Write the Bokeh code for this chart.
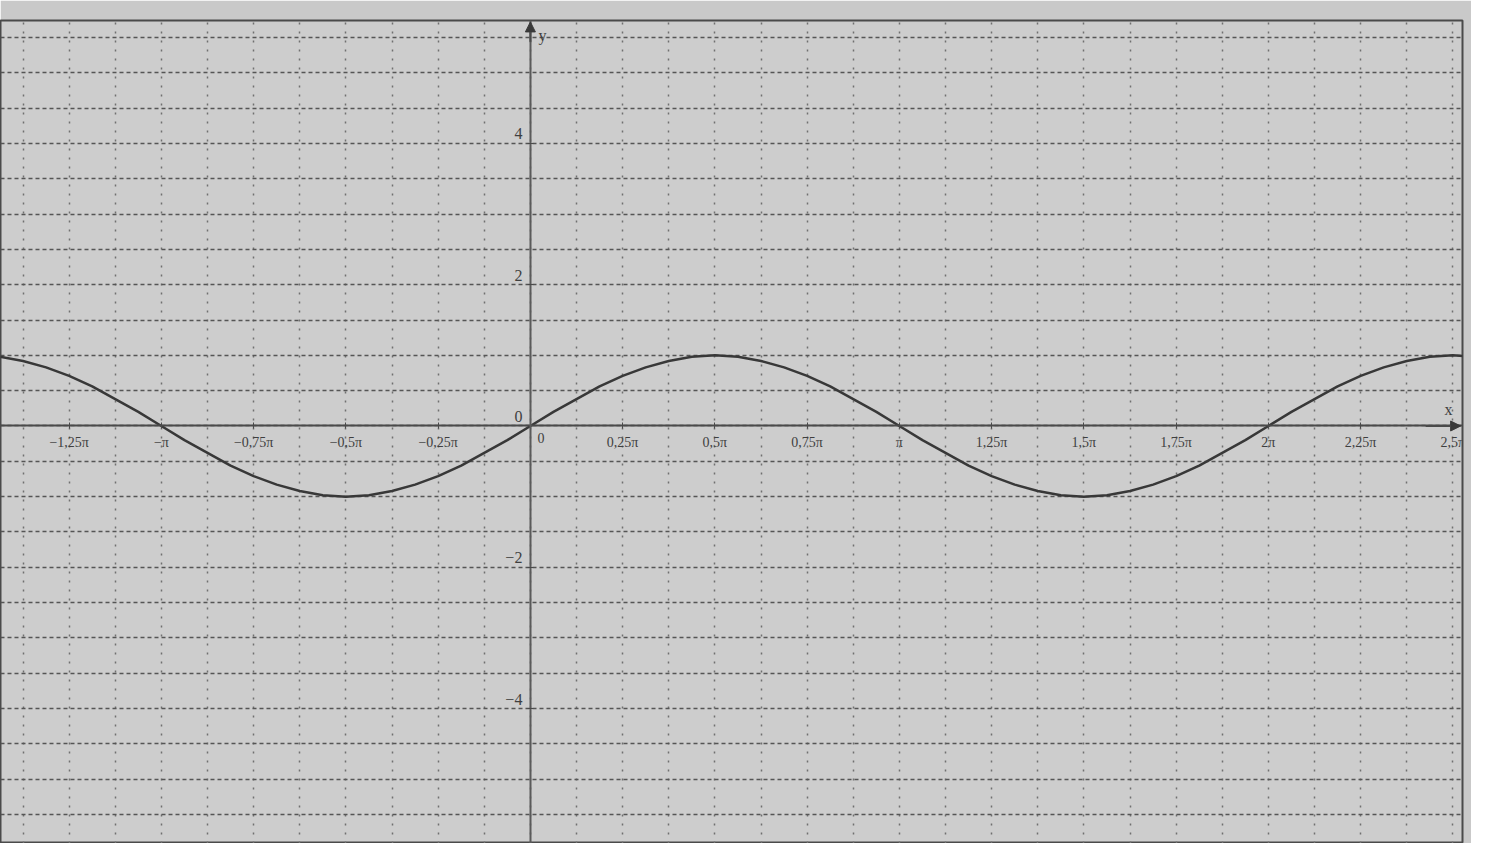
from bokeh.plotting import figure
from bokeh.models import Range1d, FixedTicker, Arrow, NormalHead, Label, ColumnDataSource
from bokeh.core.properties import value
from bokeh.embed import file_html
from bokeh.resources import INLINE

# x in units of pi (sample points along the curve), y
x_pi = [-1.4375, -1.375, -1.3125, -1.25, -1.1875, -1.125, -1.0625, -1.0,
        -0.9375, -0.875, -0.8125, -0.75, -0.6875, -0.625, -0.5625, -0.5,
        -0.4375, -0.375, -0.3125, -0.25, -0.1875, -0.125, -0.0625, 0.0,
        0.0625, 0.125, 0.1875, 0.25, 0.3125, 0.375, 0.4375, 0.5,
        0.5625, 0.625, 0.6875, 0.75, 0.8125, 0.875, 0.9375, 1.0,
        1.0625, 1.125, 1.1875, 1.25, 1.3125, 1.375, 1.4375, 1.5,
        1.5625, 1.625, 1.6875, 1.75, 1.8125, 1.875, 1.9375, 2.0,
        2.0625, 2.125, 2.1875, 2.25, 2.3125, 2.375, 2.4375, 2.5, 2.5625]
y_vals = [0.98, 0.92, 0.83, 0.71, 0.56, 0.38, 0.2, 0.0,
          -0.2, -0.38, -0.56, -0.71, -0.83, -0.92, -0.98, -1.0,
          -0.98, -0.92, -0.83, -0.71, -0.56, -0.38, -0.2, 0.0,
          0.2, 0.38, 0.56, 0.71, 0.83, 0.92, 0.98, 1.0,
          0.98, 0.92, 0.83, 0.71, 0.56, 0.38, 0.2, 0.0,
          -0.2, -0.38, -0.56, -0.71, -0.83, -0.92, -0.98, -1.0,
          -0.98, -0.92, -0.83, -0.71, -0.56, -0.38, -0.2, 0.0,
          0.2, 0.38, 0.56, 0.71, 0.83, 0.92, 0.98, 1.0, 0.98]

x_ticks = [-1.25, -1.0, -0.75, -0.5, -0.25, 0.0, 0.25, 0.5, 0.75, 1.0,
           1.25, 1.5, 1.75, 2.0, 2.25, 2.5]
x_tick_labels = ["\u22121,25\u03c0", "\u2212\u03c0", "\u22120,75\u03c0", "\u22120,5\u03c0",
                 "\u22120,25\u03c0", "0", "0,25\u03c0", "0,5\u03c0", "0,75\u03c0", "\u03c0",
                 "1,25\u03c0", "1,5\u03c0", "1,75\u03c0", "2\u03c0", "2,25\u03c0", "2,5\u03c0"]
y_ticks = [4, 2, 0, -2, -4]
y_tick_labels = ["4", "2", "0", "\u22122", "\u22124"]

x_grid = [i / 8 for i in range(-11, 21)]
y_grid = [i / 2 for i in range(-11, 12)]

X0, X1 = -1.436, 2.526
Y0, Y1 = -5.91, 5.74

paper = "#cdcdcd"
ink = "#3f3f3f"
serif = "Liberation Serif"

p = figure(width=1471, height=843, output_backend="svg", toolbar_location=None,
           x_range=Range1d(X0, X1), y_range=Range1d(Y0, Y1),
           min_border_left=0, min_border_right=9, min_border_top=20, min_border_bottom=0)
p.background_fill_color = paper
p.border_fill_color = "#c9c9c9"
p.outline_line_color = "#4a4a4a"
p.outline_line_width = 2

# grid
p.xgrid.ticker = FixedTicker(ticks=x_grid)
p.xgrid.grid_line_color = "#707070"
p.xgrid.grid_line_dash = "2 7"
p.xgrid.grid_line_width = 1.5
p.ygrid.ticker = FixedTicker(ticks=y_grid)
p.ygrid.grid_line_color = "#555555"
p.ygrid.grid_line_dash = "4 3"
p.ygrid.grid_line_width = 1.3

# axes through the origin
overrides = {}
for t, lab in zip(x_ticks, x_tick_labels):
    overrides[t] = "" if t == 0 else lab
xa = p.xaxis[0]
xa.fixed_location = 0
xa.ticker = FixedTicker(ticks=x_ticks)
xa.major_label_overrides = overrides
xa.axis_line_color = "#4a4a4a"
xa.axis_line_width = 2
xa.major_tick_in = 3
xa.major_tick_out = 3
xa.major_tick_line_color = "#4a4a4a"
xa.minor_tick_line_color = None
xa.major_label_standoff = 6
xa.major_label_text_font = serif
xa.major_label_text_font_size = "14px"
xa.major_label_text_color = ink

ya = p.yaxis[0]
ya.fixed_location = 0
ya.ticker = FixedTicker(ticks=[-4, -2, 2, 4])
ya.major_label_overrides = {-4: "", -2: "", 2: "", 4: ""}
ya.axis_line_color = "#5a5a5a"
ya.axis_line_width = 2
ya.major_tick_in = 3
ya.major_tick_out = 3
ya.major_tick_line_color = "#4a4a4a"
ya.minor_tick_line_color = None

# y tick labels (printed slightly above their ticks)
ysrc = ColumnDataSource(dict(x=[0] * len(y_ticks), y=y_ticks, t=y_tick_labels))
p.text(x="x", y="y", text="t", source=ysrc, text_align="right", text_baseline="bottom",
       x_offset=-8, y_offset=-4, text_font=value(serif), text_font_size="16px",
       text_color=ink)
# x "0" label to the right of the y axis
p.text(x=[x_ticks[5]], y=[0], text=[x_tick_labels[5]], text_align="left",
       text_baseline="top", x_offset=7, y_offset=7, text_font=value(serif),
       text_font_size="14px", text_color=ink)

# curve
p.line(x=x_pi, y=y_vals, line_color="#383838", line_width=2.5)

# arrows
p.add_layout(Arrow(end=NormalHead(size=10, fill_color="#3a3a3a", line_color="#3a3a3a"),
                   x_start=0, y_start=Y1 - 0.3, x_end=0, y_end=Y1 - 0.02,
                   line_color="#4a4a4a", line_width=2))
p.add_layout(Arrow(end=NormalHead(size=10, fill_color="#3a3a3a", line_color="#3a3a3a"),
                   x_start=X1 - 0.1, y_start=0, x_end=X1 - 0.005, y_end=0,
                   line_color="#4a4a4a", line_width=2))
p.add_layout(Label(x=X1, y=0, text="x", x_offset=-14, y_offset=8, text_align="center",
                   text_baseline="bottom", text_font=serif, text_font_size="16px",
                   text_color=ink))
p.add_layout(Label(x=0, y=Y1, text="y", x_offset=8, y_offset=-6, text_align="left",
                   text_baseline="top", text_font=serif, text_font_size="16px",
                   text_color=ink))

open("out.html", "w").write(file_html(p, INLINE))
